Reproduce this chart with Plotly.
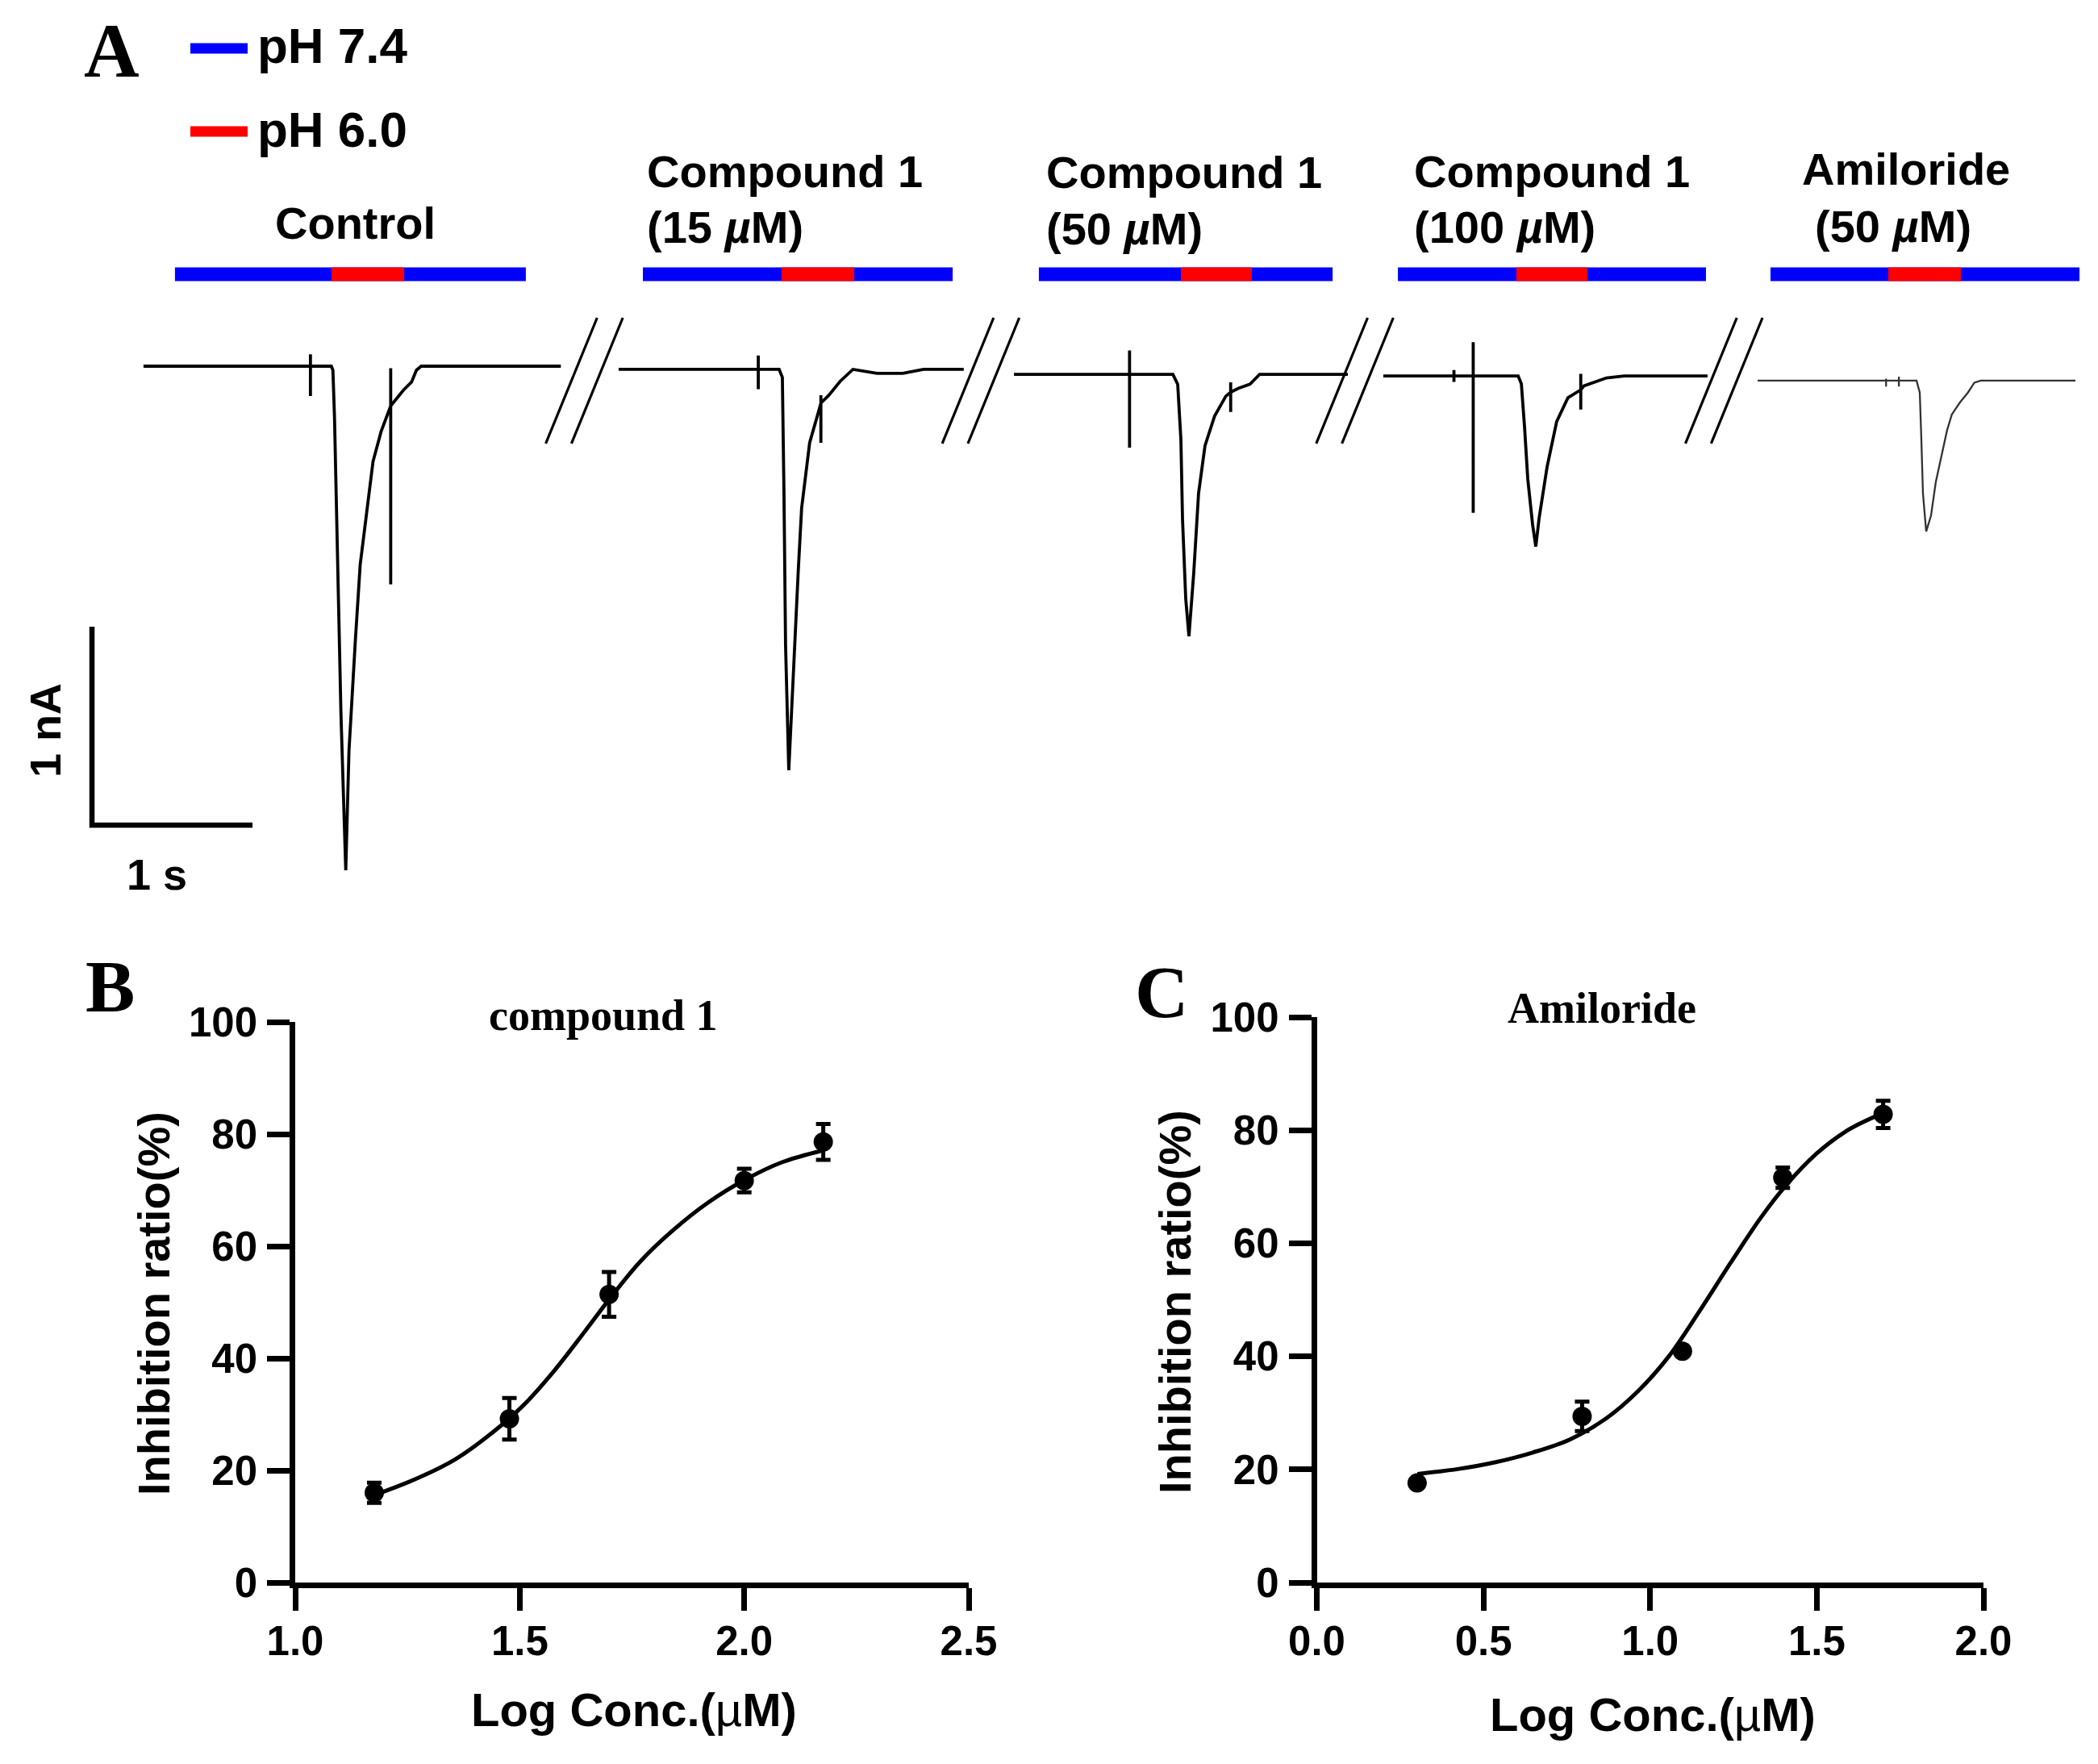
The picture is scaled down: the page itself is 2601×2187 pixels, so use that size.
import plotly.graph_objects as go

W, H = 2601, 2187
SANS = "Liberation Sans"
SERIF = "Liberation Serif"

# ---------------- panel A: ASIC currents ----------------
# time (s) from start of each sweep, current (nA) relative to sweep baseline
ctrl_t = [0.00, 1.04, 1.04, 1.04, 1.04, 1.17, 1.18, 1.19, 1.21, 1.23, 1.26, 1.28, 1.32, 1.35,
          1.39, 1.43, 1.48, 1.54, 1.54, 1.54, 1.54, 1.62, 1.67, 1.70, 1.73, 2.60]
ctrl_i = [0.00, 0.00, 0.06, -0.15, 0.00, 0.00, -0.02, -0.26, -1.00, -1.75, -2.54, -1.94, -1.38, -1.00,
          -0.74, -0.48, -0.33, -0.20, -0.01, -1.10, -0.20, -0.12, -0.08, -0.02, 0.00, 0.00]

c15_t = [0.00, 0.87, 0.87, 0.87, 0.87, 1.00, 1.02, 1.03, 1.04, 1.06, 1.09, 1.12, 1.14, 1.19,
         1.25, 1.26, 1.26, 1.26, 1.26, 1.31, 1.38, 1.46, 1.61, 1.77, 1.90, 2.15]
c15_i = [0.00, 0.00, 0.07, -0.10, 0.00, 0.00, -0.04, -0.62, -1.39, -2.02, -1.47, -1.00, -0.70, -0.37,
         -0.20, -0.17, -0.37, -0.13, -0.17, -0.13, -0.06, 0.00, -0.02, -0.02, 0.00, 0.00]

c50_t = [0.00, 0.72, 0.72, 0.72, 0.72, 0.99, 1.02, 1.04, 1.05, 1.07, 1.09, 1.12, 1.15, 1.19,
         1.25, 1.32, 1.35, 1.35, 1.35, 1.35, 1.40, 1.47, 1.53, 2.08]
c50_i = [0.00, 0.00, 0.12, -0.37, 0.00, 0.00, -0.05, -0.33, -0.73, -1.13, -1.32, -1.00, -0.60, -0.36,
         -0.21, -0.11, -0.09, -0.04, -0.19, -0.09, -0.07, -0.05, 0.00, 0.00]

c100_t = [0.00, 0.44, 0.44, 0.44, 0.44, 0.56, 0.56, 0.56, 0.56, 0.84, 0.86, 0.88, 0.90, 0.93,
          0.95, 0.97, 1.02, 1.08, 1.15, 1.23, 1.23, 1.23, 1.23, 1.25, 1.39, 1.50, 2.02]
c100_i = [0.00, 0.00, 0.03, -0.03, 0.00, 0.00, 0.17, -0.69, 0.00, 0.00, -0.04, -0.26, -0.52, -0.75,
          -0.86, -0.72, -0.46, -0.23, -0.11, -0.07, 0.01, -0.17, -0.07, -0.05, -0.01, 0.00, 0.00]

amil_t = [0.00, 0.80, 0.80, 0.80, 0.80, 0.88, 0.88, 0.88, 0.88, 0.99, 1.01, 1.02, 1.03, 1.05,
          1.08, 1.11, 1.15, 1.18, 1.21, 1.26, 1.31, 1.35, 1.39, 1.98]
amil_i = [0.00, 0.00, 0.01, -0.03, 0.00, 0.00, 0.02, -0.03, 0.00, 0.00, -0.06, -0.30, -0.57, -0.76,
          -0.68, -0.51, -0.36, -0.25, -0.17, -0.11, -0.06, -0.01, 0.00, 0.00]

sweep_start = [0.894, 3.854, 6.317, 8.618, 10.950]     # s, on the broken time axis
sweep_base = [0.0, -0.016, -0.041, -0.049, -0.073]     # nA

# perfusion bars (s from sweep start): pH 7.4 on, pH 6.0 on, pH 6.0 off, pH 7.4 off
bar_on = [0.196, 0.151, 0.155, 0.091, 0.080]
acid_on = [1.171, 1.015, 1.040, 0.829, 0.814]
acid_off = [1.624, 1.468, 1.482, 1.271, 1.266]
bar_off = [2.382, 2.081, 1.985, 2.010, 2.005]
bar_level = 0.463

sweep_labels = [["Control"],
                ["Compound 1", "(15 <i>µ</i>M)"],
                ["Compound 1", "(50 <i>µ</i>M)"],
                ["Compound 1", "(100 <i>µ</i>M)"],
                ["Amiloride", "(50 <i>µ</i>M)"]]

break_x = [3.64, 6.11, 8.44, 10.74]   # s, where the time axis is broken

# ---------------- panel B / C: concentration-response ----------------
b_logc = [1.176, 1.477, 1.699, 2.000, 2.176]
b_inh = [16.0, 29.2, 51.4, 71.7, 78.6]
b_err = [1.8, 3.7, 4.0, 2.1, 3.2]
b_fit_x = [1.176, 1.275, 1.357, 1.440, 1.508, 1.577, 1.646, 1.701, 1.769, 1.838, 1.920, 2.003, 2.085, 2.176]
b_fit_y = [15.6, 18.7, 22.0, 26.8, 31.6, 37.8, 44.9, 50.7, 57.3, 62.6, 67.8, 71.9, 75.0, 77.1]

c_logc = [0.301, 0.796, 1.097, 1.398, 1.699]
c_inh = [17.6, 29.4, 40.9, 71.6, 82.8]
c_err = [0.0, 2.6, 0.0, 1.8, 2.4]
c_fit_x = [0.302, 0.426, 0.537, 0.648, 0.759, 0.870, 0.963, 1.056, 1.148, 1.241, 1.333, 1.407, 1.500, 1.593, 1.698]
c_fit_y = [19.2, 20.1, 21.3, 23.0, 25.3, 29.1, 33.8, 40.0, 48.0, 56.5, 64.6, 70.2, 75.9, 80.0, 83.0]


def px(x, y):
    # pixel position in the 2601x2187 picture -> paper coords
    return x / W, 1 - y / H


fig = go.Figure()

# current traces
sweeps = [(ctrl_t, ctrl_i), (c15_t, c15_i), (c50_t, c50_i), (c100_t, c100_i), (amil_t, amil_i)]
for k, (tt, ii) in enumerate(sweeps):
    last = k == len(sweeps) - 1
    fig.add_trace(go.Scatter(
        x=[t + sweep_start[k] for t in tt],
        y=[v + sweep_base[k] for v in ii],
        mode="lines", line=dict(color="#333333" if last else "black", width=2.3 if last else 3.8),
        xaxis="x", yaxis="y", showlegend=False, hoverinfo="skip"))

# perfusion bars
for k in range(5):
    s = sweep_start[k]
    fig.add_trace(go.Scatter(x=[s + bar_on[k], s + bar_off[k]], y=[bar_level] * 2, mode="lines",
                             line=dict(color="#0000ff", width=17), xaxis="x", yaxis="y",
                             showlegend=False, hoverinfo="skip"))
    fig.add_trace(go.Scatter(x=[s + acid_on[k], s + acid_off[k]], y=[bar_level] * 2, mode="lines",
                             line=dict(color="#ff0000", width=17), xaxis="x", yaxis="y",
                             showlegend=False, hoverinfo="skip"))

# scale bar 1 s / 1 nA
fig.add_trace(go.Scatter(x=[0.573, 0.573, 1.573], y=[-1.313, -2.313, -2.313], mode="lines",
                         line=dict(color="black", width=6.5), xaxis="x", yaxis="y",
                         showlegend=False, hoverinfo="skip"))

shapes = []
for bx in break_x:
    for dx in (-0.08, 0.08):
        shapes.append(dict(type="line", xref="x", yref="y", x0=bx + dx - 0.16, y0=-0.39,
                           x1=bx + dx + 0.16, y1=0.244, line=dict(color="black", width=3.2)))

# legend swatches
for yy, col in ((60, "#0000ff"), (163, "#ff0000")):
    x0, y0 = px(236, yy)
    x1, _ = px(307, yy)
    shapes.append(dict(type="line", xref="paper", yref="paper", x0=x0, y0=y0, x1=x1, y1=y0,
                       line=dict(color=col, width=13)))

annotations = []


def note(text, x, y, size, family=SANS, xanchor="center", angle=0, weight="bold"):
    xp, yp = px(x, y)
    annotations.append(dict(text=text, x=xp, y=yp, xref="paper", yref="paper", showarrow=False,
                            xanchor=xanchor, yanchor="middle", textangle=angle,
                            font=dict(family=family, size=size, color="black", weight=weight)))


note("A", 138, 63, 95, family=SERIF)
note("pH 7.4", 317, 56, 62, xanchor="left")
note("pH 6.0", 317, 160, 62, xanchor="left")

label_pos = [[(440, 276, "center")],
             [(800, 212, "left"), (800, 282, "left")],
             [(1295, 214, "left"), (1295, 284, "left")],
             [(1751, 212, "left"), (1751, 282, "left")],
             [(2232, 210, "left"), (2248, 280, "left")]]
for lines, pos in zip(sweep_labels, label_pos):
    for txt, (lx, ly, anc) in zip(lines, pos):
        note(txt, lx, ly, 56, xanchor=anc)

note("1 nA", 56, 906, 54, angle=-90)
note("1 s", 194, 1084, 54)

# panel B / C
note("B", 136, 1223, 92, family=SERIF)
note("C", 1440, 1230, 92, family=SERIF)
note("compound 1", 748, 1259, 54, family=SERIF)
note("Amiloride", 1986, 1250, 54, family=SERIF)
note("Log Conc.(<span style='font-weight:normal'>µ</span>M)", 786, 2119, 58)
note("Log Conc.(<span style='font-weight:normal'>µ</span>M)", 2049, 2125, 58)
note("Inhibition ratio(%)", 190, 1616, 56, angle=-90)
note("Inhibition ratio(%)", 1456, 1614, 56, angle=-90)

for xs, ys, es, fx, fy, xa, ya in ((b_logc, b_inh, b_err, b_fit_x, b_fit_y, "x2", "y2"),
                                   (c_logc, c_inh, c_err, c_fit_x, c_fit_y, "x3", "y3")):
    fig.add_trace(go.Scatter(x=fx, y=fy, mode="lines", line=dict(color="black", width=5, shape="spline"),
                             xaxis=xa, yaxis=ya, showlegend=False, hoverinfo="skip"))
    fig.add_trace(go.Scatter(x=xs, y=ys, mode="markers",
                             marker=dict(color="black", size=24),
                             error_y=dict(type="data", array=es, visible=True, color="black",
                                          thickness=5, width=9),
                             xaxis=xa, yaxis=ya, showlegend=False))

tick_font = dict(family=SANS, size=51, color="black", weight="bold")
axis_common = dict(showgrid=False, zeroline=False, showline=True, linecolor="black", linewidth=6.5,
                   ticks="outside", ticklen=28, tickwidth=6.5, tickcolor="black", tickfont=tick_font,
                   automargin=False)

fig.update_layout(
    width=W, height=H, autosize=False,
    margin=dict(l=0, r=0, t=0, b=0, pad=0),
    paper_bgcolor="white", plot_bgcolor="rgba(0,0,0,0)",
    xaxis=dict(domain=[0, 1], range=[0, W / 199], visible=False, fixedrange=True, automargin=False),
    yaxis=dict(domain=[0.47, 1], range=[(454 - 0.53 * H) / 246, 454 / 246], visible=False,
               fixedrange=True, automargin=False),
    xaxis2=dict(domain=[366 / W, 1201 / W], range=[1.0, 2.5], tickvals=[1.0, 1.5, 2.0, 2.5],
                tickformat=".1f", anchor="y2", ticklabelstandoff=-6, **axis_common),
    yaxis2=dict(domain=[1 - 1962 / H, 1 - 1267 / H], range=[0, 100], tickvals=[0, 20, 40, 60, 80, 100],
                anchor="x2", ticklabelstandoff=2, **axis_common),
    xaxis3=dict(domain=[1632.5 / W, 2459 / W], range=[0, 2.0], tickvals=[0.0, 0.5, 1.0, 1.5, 2.0],
                tickformat=".1f", anchor="y3", ticklabelstandoff=-6, **axis_common),
    yaxis3=dict(domain=[1 - 1962 / H, 1 - 1261 / H], range=[0, 100], tickvals=[0, 20, 40, 60, 80, 100],
                anchor="x3", ticklabelstandoff=2, **axis_common),
    shapes=shapes,
    annotations=annotations,
)

fig.write_html("out.html", config={"displayModeBar": False},
               post_script="document.body.style.margin = '0px';")
